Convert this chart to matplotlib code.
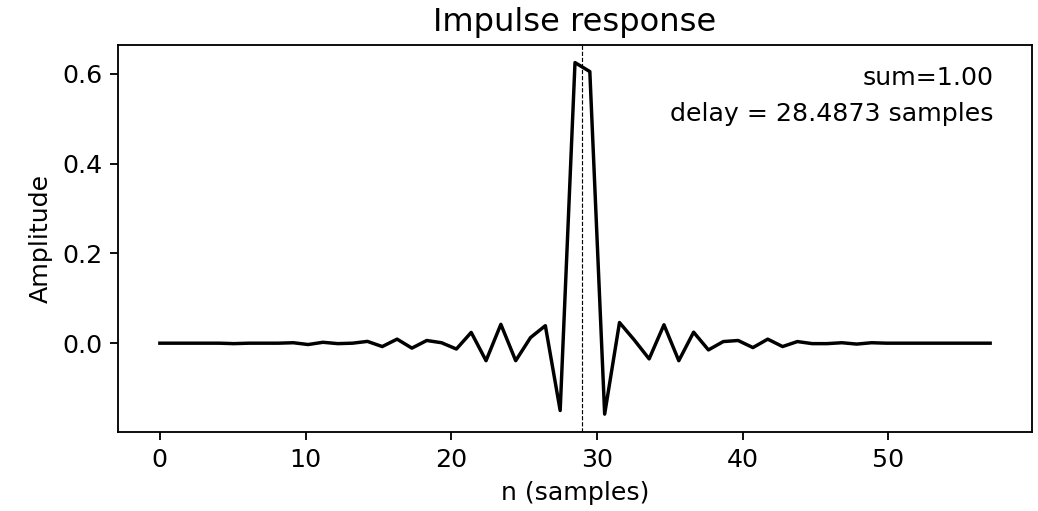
import numpy as np
import matplotlib
matplotlib.use("Agg")
import matplotlib.pyplot as plt

# filter taps (57 taps)
h = [0.000, 0.000, 0.000, 0.000, 0.000, -0.001, 0.000, 0.000, 0.000, 0.001,
     -0.003, 0.002, -0.001, 0.000, 0.004, -0.0075, 0.009, -0.011, 0.006, 0.001,
     -0.013, 0.024, -0.039, 0.042, -0.039, 0.0125, 0.039, -0.150, 0.625, 0.605,
     -0.158, 0.046, 0.007, -0.035, 0.041, -0.039, 0.0245, -0.015, 0.0036, 0.006,
     -0.0098, 0.009, -0.0075, 0.0036, -0.001, -0.001, 0.001, -0.002, 0.001, 0.000,
     0.000, 0.000, 0.000, 0.000, 0.000, 0.000, 0.000]
span = 57
delay = 28.4873
total = 1.00

n = np.linspace(0, span, len(h))
delay_x = delay * span / (len(h) - 1)

dpi = 165
fig = plt.figure(figsize=(1038 / dpi, 511 / dpi), dpi=dpi)
ax = fig.add_axes([0.1140, 0.1552, 0.9939 - 0.1140, 0.9119 - 0.1552])

ax.plot(n, h, color="black", lw=1.5)
ax.axvline(delay_x, color="black", ls="--", lw=0.5)

ax.set_title("Impulse response", fontsize=14)
ax.set_xlabel("n (samples)", fontsize=11)
ax.set_ylabel("Amplitude", fontsize=11)
ax.tick_params(labelsize=11)
ax.set_xticks([0, 10, 20, 30, 40, 50])
ax.set_yticks([0.0, 0.2, 0.4, 0.6])

ax.text(0.958, 0.945, "sum=%.2f\ndelay = %.4f samples" % (total, delay),
        transform=ax.transAxes, ha="right", va="top", fontsize=11,
        linespacing=1.6)

fig.savefig("out.png", dpi=dpi)
